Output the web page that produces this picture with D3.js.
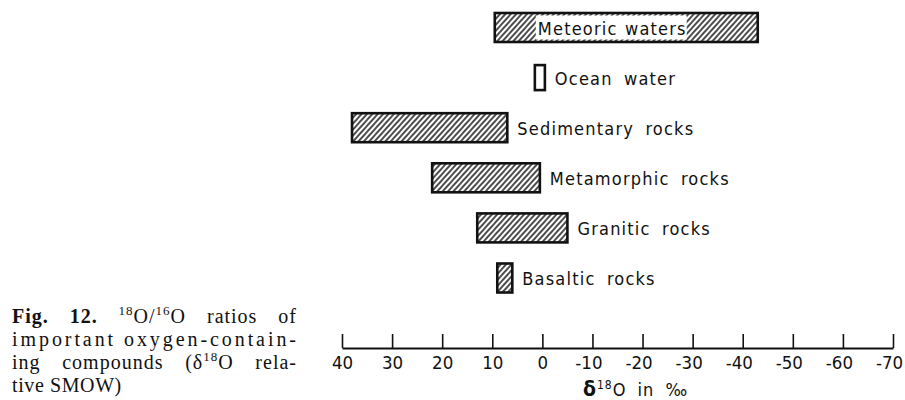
<!DOCTYPE html>
<html>
<head>
<meta charset="utf-8">
<script src="https://cdn.jsdelivr.net/npm/d3@7"></script>
<style>
  html, body { margin: 0; padding: 0; background: #fff; }
  svg { display: block; }
  .lbl { font-family: "DejaVu Sans Condensed", "DejaVu Sans", sans-serif; font-size: 18px; fill: #111; letter-spacing: 1.2px; word-spacing: 5px; }
  .cap { font-family: "Liberation Serif", "Times New Roman", serif; font-size: 20px; fill: #111; letter-spacing: 1px; }
</style>
</head>
<body>
<svg id="chart" width="905" height="400"></svg>
<script>
// ---- data ----
const categories = ["Meteoric waters", "Ocean water", "Sedimentary rocks", "Metamorphic rocks", "Granitic rocks", "Basaltic rocks"];
const rangeStart = [9.5, 1.5, 38, 22, 13, 9];     // positive (left) end, ‰
const rangeEnd   = [-43, -0.5, 7, 0.5, -5, 6];     // negative (right) end, ‰
const tickValues = [40, 30, 20, 10, 0, -10, -20, -30, -40, -50, -60, -70];
const tickLabels = ["40", "30", "20", "10", "0", "-10", "-20", "-30", "-40", "-50", "-60", "-70"];
const axisTitle = "in ‰";
const captionLines = [
  "important oxygen-contain-",
  "tive SMOW)"
];

const svg = d3.select("#chart");

const x = d3.scaleLinear().domain([40, -70]).range([342, 893]);
const y = d3.scalePoint().domain(categories).range([27.5, 278]);

// hatch pattern
const defs = svg.append("defs");
const pat = defs.append("pattern")
  .attr("id", "hatch")
  .attr("patternUnits", "userSpaceOnUse")
  .attr("width", 4).attr("height", 4)
  .attr("patternTransform", "rotate(42)");
pat.append("rect").attr("width", 4).attr("height", 4).attr("fill", "#fff");
pat.append("line").attr("x1", 1).attr("y1", 0).attr("x2", 1).attr("y2", 4)
  .attr("stroke", "#111").attr("stroke-width", 1.5);

const data = categories.map((c, i) => ({ name: c, a: rangeStart[i], b: rangeEnd[i] }));

const barH = d => d.name === "Ocean water" ? 25 : 29;

const g = svg.append("g");
g.selectAll("rect.bar").data(data).join("rect")
  .attr("class", "bar")
  .attr("x", d => x(d.a))
  .attr("width", d => x(d.b) - x(d.a))
  .attr("y", d => y(d.name) - barH(d) / 2)
  .attr("height", barH)
  .attr("fill", d => d.name === "Ocean water" ? "#fff" : "url(#hatch)")
  .attr("stroke", "#111")
  .attr("stroke-width", 2.6);

// labels
data.forEach(d => {
  if (d.name === "Meteoric waters") {
    const cx = (x(d.a) + x(d.b)) / 2 - 14;
    const t = g.append("text").attr("class", "lbl")
      .attr("x", cx).attr("y", y(d.name) + 7)
      .style("word-spacing", "1px")
      .attr("text-anchor", "middle").text(d.name);
    const bb = t.node().getBBox();
    g.insert("rect", "text").attr("x", bb.x - 2).attr("y", y(d.name) - 12)
      .attr("width", bb.width + 2).attr("height", 24).attr("fill", "#fff");
  } else {
    g.append("text").attr("class", "lbl")
      .attr("x", x(d.b) + 10).attr("y", y(d.name) + 7)
      .text(d.name);
  }
});

// axis
const axis = d3.axisBottom(x).tickValues(tickValues)
  .tickFormat((v, i) => tickLabels[i]).tickSize(0).tickPadding(8);
const ax = svg.append("g").attr("transform", "translate(0,348)").call(axis);
ax.select(".domain").attr("stroke", "#111").attr("stroke-width", 1.8);
ax.selectAll(".tick line").attr("y2", -14).attr("stroke", "#111").attr("stroke-width", 1.6);
ax.selectAll(".tick text").attr("font-family", "'DejaVu Sans Condensed', 'DejaVu Sans', sans-serif")
  .attr("font-size", 18.5).attr("fill", "#111")
  .attr("dx", v => v < 0 ? -4 : 0);

// axis title
const at = svg.append("text").attr("class", "lbl").attr("x", 583).attr("y", 396).style("letter-spacing", "1px");
at.append("tspan").attr("font-weight", "bold").attr("font-size", 21).text("δ");
at.append("tspan").attr("font-size", 12).attr("dy", -7).text("18");
at.append("tspan").attr("dy", 7).text("O " + axisTitle);

// caption (justified via word spacing)
const justify = (sel, width) => {
  const n = sel.node();
  const len = n.getComputedTextLength();
  const spaces = (n.textContent.match(/ /g) || []).length;
  if (spaces > 0) sel.attr("word-spacing", Math.max(0, (width - len) / spaces));
};
const cap = svg.append("g");
const l1 = cap.append("text").attr("class", "cap").attr("x", 12).attr("y", 323);
l1.append("tspan").attr("font-weight", "bold").text("Fig. 12. ");
l1.append("tspan").attr("font-size", 13).attr("dy", -8).text("18");
l1.append("tspan").attr("dy", 8).text("O/");
l1.append("tspan").attr("font-size", 13).attr("dy", -8).text("16");
l1.append("tspan").attr("dy", 8).text("O ratios of");
justify(l1, 285);

const l2 = cap.append("text").attr("class", "cap").attr("x", 12).attr("y", 346)
  .text(captionLines[0]);
l2.attr("textLength", 285).attr("lengthAdjust", "spacing");

const l3 = cap.append("text").attr("class", "cap").attr("x", 12).attr("y", 369);
l3.append("tspan").text("ing compounds (δ");
l3.append("tspan").attr("font-size", 13).attr("dy", -8).text("18");
l3.append("tspan").attr("dy", 8).text("O rela-");
justify(l3, 285);

cap.append("text").attr("class", "cap").attr("x", 12).attr("y", 392)
  .style("letter-spacing", "0.6px").text(captionLines[1]);
</script>
</body>
</html>
